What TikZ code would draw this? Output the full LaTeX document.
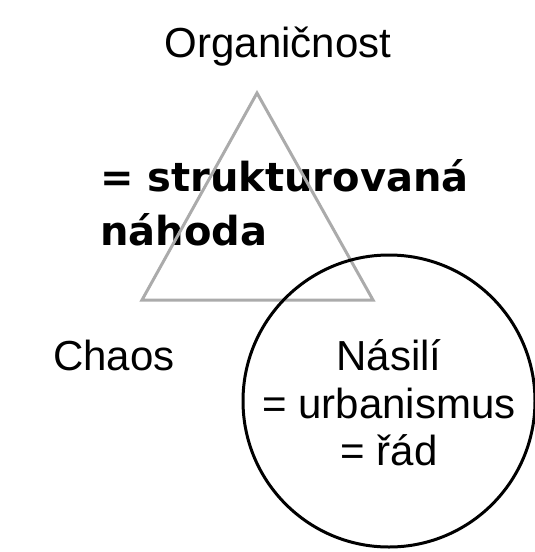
\documentclass[tikz,border=0pt]{standalone}
\usepackage{fontspec}
\setmainfont{Liberation Sans}
\newfontfamily\heavyfont{DejaVu Sans}[BoldFont={DejaVu Sans Bold}]
\definecolor{trigray}{HTML}{ABABAB}
\tikzset{
  plainlabel/.style={font=\fontsize{42}{48}\selectfont, inner sep=0pt, anchor=base},
  boldlabel/.style={font=\heavyfont\bfseries\fontsize{40}{52}\selectfont, inner sep=0pt, anchor=base west},
  triline/.style={draw=trigray, line width=3pt, line join=miter},
  circline/.style={draw=black, line width=3pt}
}
\begin{document}
\begin{tikzpicture}[x=1pt,y=-1pt]
\useasboundingbox (0,0) rectangle (535,552);
\node[plainlabel] (org) at (278,57) {Organičnost};
\node[plainlabel, anchor=base west] (chaos) at (53,370) {Chaos};
\node[plainlabel] (nas1) at (389,370) {Násilí};
\node[plainlabel] (nas2) at (389,418) {= urbanismus};
\node[plainlabel] (nas3) at (389,465) {= řád};
\node[boldlabel] (b1) at (100,191) {= strukturovaná};
\node[boldlabel] (b2) at (100,245) {náhoda};
\coordinate (apex) at (257,93);
\coordinate (bl) at (142,300);
\coordinate (br) at (373,300);
\draw[triline] (apex) -- (bl) -- (br) -- cycle;
\coordinate (cc) at (389,401);
\draw[circline] (cc) circle[radius=146];
\end{tikzpicture}
\end{document}
